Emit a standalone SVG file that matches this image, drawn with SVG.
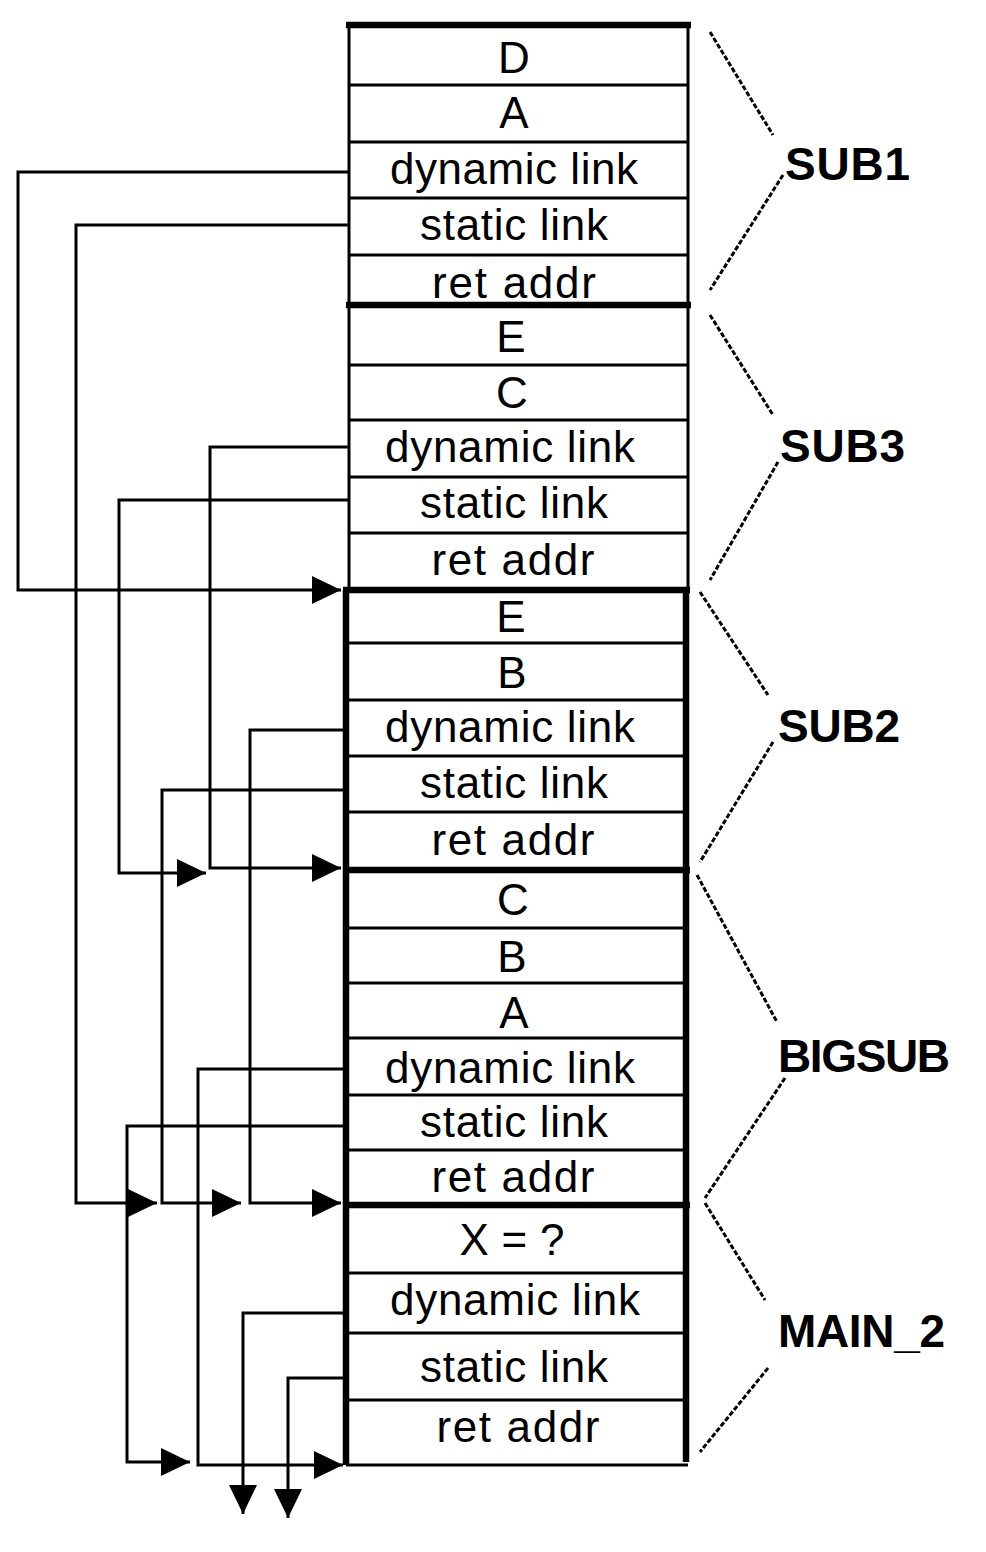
<svg xmlns="http://www.w3.org/2000/svg" width="986" height="1552" viewBox="0 0 986 1552">
<style>
.thin{stroke:#000;stroke-width:3;fill:none}
.thick{stroke:#000;stroke-width:6.5;fill:none}
.cell{font-family:"Liberation Sans",Arial,sans-serif;font-size:44px;text-anchor:middle;fill:#000}
.lbl{font-family:"Liberation Sans",Arial,sans-serif;font-size:46px;font-weight:bold;fill:#000}
.brace{stroke:#000;stroke-width:3;stroke-dasharray:5 2;fill:none}
.conn{stroke:#000;stroke-width:3;fill:none}
</style>
<defs>
<marker id="arr" markerUnits="userSpaceOnUse" markerWidth="32" markerHeight="32" refX="29" refY="15" orient="auto">
<path d="M0,1 L29,15 L0,29 Z" fill="#000"/>
</marker>
</defs>
<rect width="986" height="1552" fill="#fff"/>

<g id="sub1">
<path class="thin" d="M349,25 V305 M688,25 V305 M349,85 H688 M349,142 H688 M349,198 H688 M349,255 H688"/>
<path class="thick" d="M346,25 H691 M346,305 H691"/>
<text class="cell" x="514" y="73">D</text>
<text class="cell" x="514" y="128">A</text>
<text class="cell" x="514" y="184" textLength="248" lengthAdjust="spacing">dynamic link</text>
<text class="cell" x="514" y="240" textLength="188" lengthAdjust="spacing">static link</text>
<text class="cell" x="514" y="298" textLength="164" lengthAdjust="spacing">ret addr</text>
<path class="brace" d="M710,32 L773,135 M783,175 L710,290"/>
<text class="lbl" x="785" y="180" textLength="125" lengthAdjust="spacing">SUB1</text>
</g>

<g id="sub3">
<path class="thin" d="M349,305 V590 M688,305 V590 M349,365 H688 M349,420 H688 M349,477 H688 M349,533 H688"/>
<text class="cell" x="511" y="352">E</text>
<text class="cell" x="512" y="408">C</text>
<text class="cell" x="510" y="462" textLength="250" lengthAdjust="spacing">dynamic link</text>
<text class="cell" x="514" y="518" textLength="188" lengthAdjust="spacing">static link</text>
<text class="cell" x="513" y="575" textLength="163" lengthAdjust="spacing">ret addr</text>
<path class="brace" d="M710,315 L773,415 M778,462 L710,580"/>
<text class="lbl" x="780" y="462" textLength="125" lengthAdjust="spacing">SUB3</text>
</g>

<g id="sub2">
<path class="thick" d="M346,590 V870 M686,590 V870 M343,590 H690 M343,870 H690"/>
<path class="thin" d="M346,643 H686 M346,700 H686 M346,756 H686 M346,812 H686"/>
<text class="cell" x="511" y="632">E</text>
<text class="cell" x="512" y="688">B</text>
<text class="cell" x="510" y="742" textLength="250" lengthAdjust="spacing">dynamic link</text>
<text class="cell" x="514" y="798" textLength="188" lengthAdjust="spacing">static link</text>
<text class="cell" x="513" y="855" textLength="163" lengthAdjust="spacing">ret addr</text>
<path class="brace" d="M700,592 L768,695 M773,742 L700,862"/>
<text class="lbl" x="778" y="742" textLength="122" lengthAdjust="spacing">SUB2</text>
</g>

<g id="bigsub">
<path class="thick" d="M346,870 V1205 M686,870 V1205 M343,1205 H690"/>
<path class="thin" d="M346,928 H686 M346,983 H686 M346,1038 H686 M346,1095 H686 M346,1150 H686"/>
<text class="cell" x="513" y="915">C</text>
<text class="cell" x="512" y="972">B</text>
<text class="cell" x="514" y="1028">A</text>
<text class="cell" x="510" y="1083" textLength="250" lengthAdjust="spacing">dynamic link</text>
<text class="cell" x="514" y="1137" textLength="188" lengthAdjust="spacing">static link</text>
<text class="cell" x="513" y="1192" textLength="163" lengthAdjust="spacing">ret addr</text>
<path class="brace" d="M697,875 L777,1022 M785,1078 L705,1198"/>
<text class="lbl" x="778" y="1072" textLength="172" lengthAdjust="spacing">BIGSUB</text>
</g>

<g id="main2">
<path class="thick" d="M346,1205 V1465 M686,1205 V1462"/>
<path class="thin" d="M346,1273 H686 M346,1333 H686 M346,1400 H686 M346,1465 H688"/>
<text class="cell" x="512" y="1255" textLength="105" lengthAdjust="spacing">X = ?</text>
<text class="cell" x="515" y="1315" textLength="250" lengthAdjust="spacing">dynamic link</text>
<text class="cell" x="514" y="1382" textLength="188" lengthAdjust="spacing">static link</text>
<text class="cell" x="518" y="1442" textLength="163" lengthAdjust="spacing">ret addr</text>
<path class="brace" d="M705,1203 L765,1300 M768,1368 L700,1452"/>
<text class="lbl" x="778" y="1347" textLength="167" lengthAdjust="spacing">MAIN_2</text>
</g>

<g id="connectors">
<path class="conn" marker-end="url(#arr)" d="M349,172 H18 V590 H341"/>
<path class="conn" marker-end="url(#arr)" d="M349,225 H76 V1203 H157"/>
<path class="conn" marker-end="url(#arr)" d="M349,447 H210 V868 H341"/>
<path class="conn" marker-end="url(#arr)" d="M349,500 H119 V873 H206"/>
<path class="conn" marker-end="url(#arr)" d="M346,730 H250 V1203 H341"/>
<path class="conn" marker-end="url(#arr)" d="M346,790 H162 V1203 H241"/>
<path class="conn" marker-end="url(#arr)" d="M346,1069 H198 V1465 H343"/>
<path class="conn" marker-end="url(#arr)" d="M346,1126 H127 V1462 H190"/>
<path class="conn" marker-end="url(#arr)" d="M346,1313 H243 V1514"/>
<path class="conn" marker-end="url(#arr)" d="M346,1378 H288 V1518"/>
</g>
</svg>
